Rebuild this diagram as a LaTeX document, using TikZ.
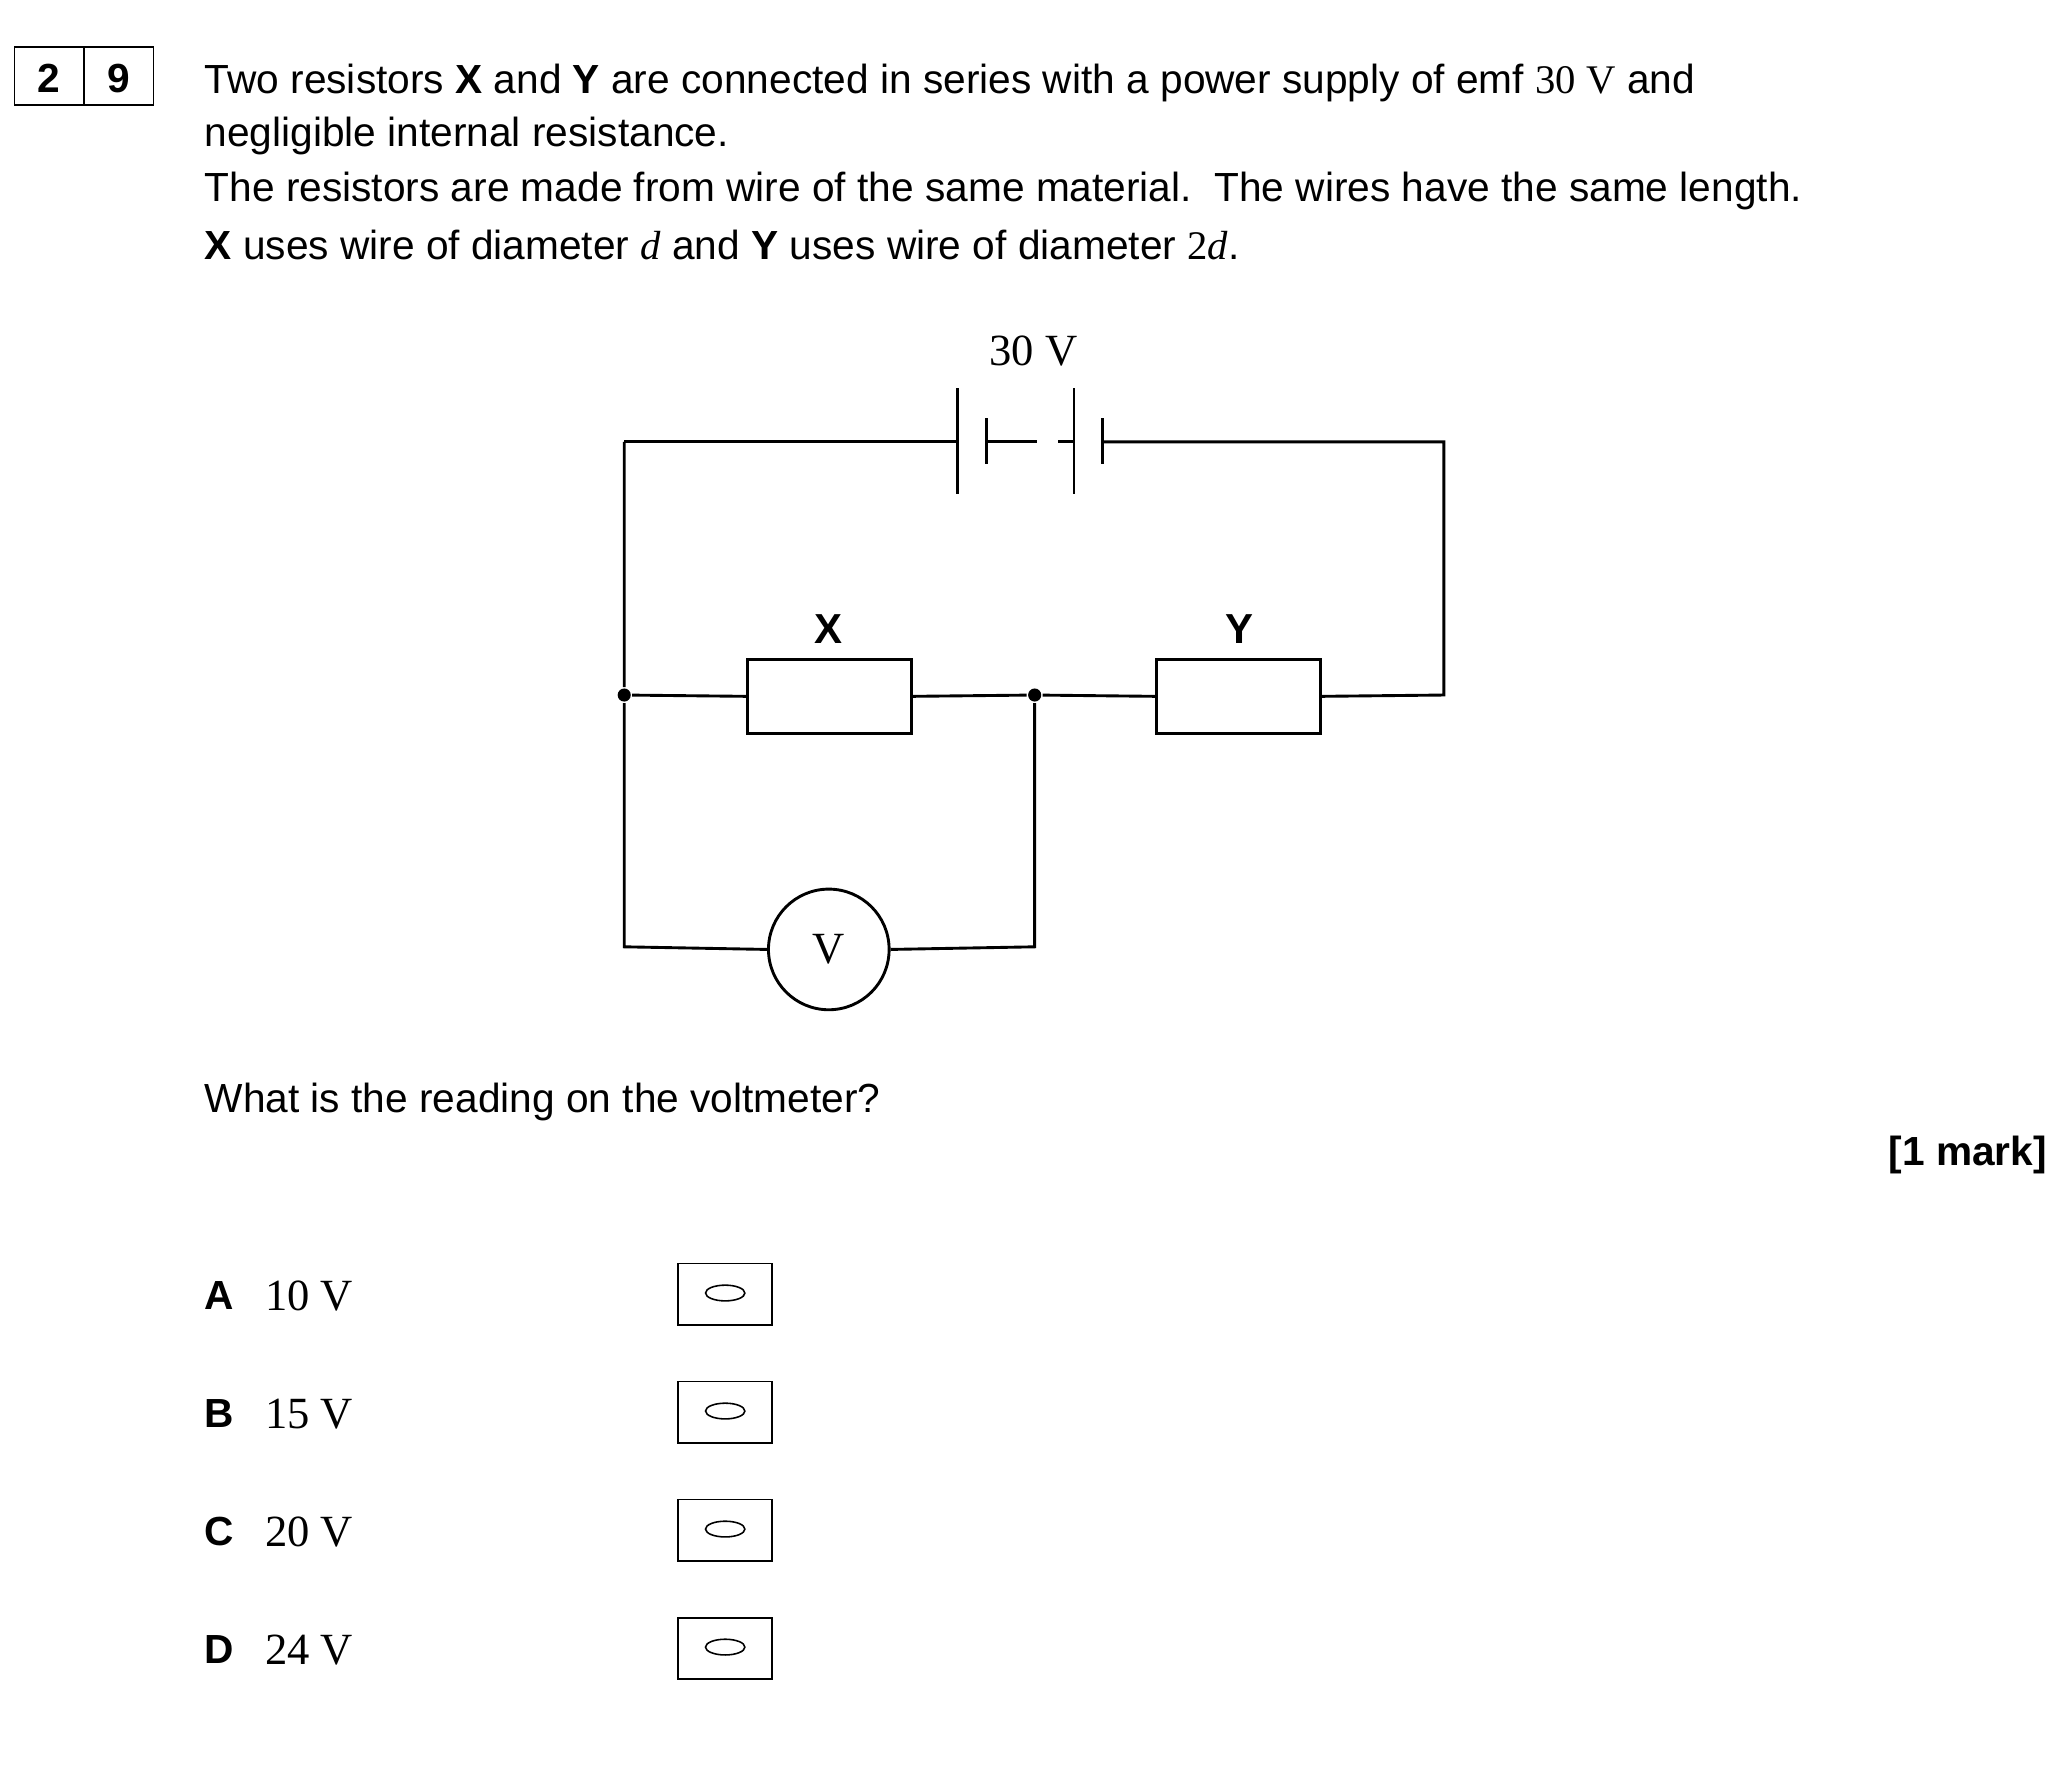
\documentclass[tikz,border=0pt]{standalone}
\usepackage{fontspec}
\setmainfont{Liberation Sans}
\newfontfamily\tms{Liberation Serif}
\begin{document}
\begin{tikzpicture}[x=0.5pt,y=-0.5pt,line width=1.1pt,
  txt/.style={anchor=west,inner sep=0,font=\fontsize{15.5}{18}\selectfont},
  res/.style={draw,minimum width=62.5pt,minimum height=28pt,inner sep=0},
  dot/.style={circle,fill,inner sep=0,minimum size=5pt},
  optbox/.style={draw,line width=0.7pt,minimum width=36pt,minimum height=23.5pt,inner sep=0}]
\useasboundingbox (0,0) rectangle (1564,1363);
% question number box
\draw[line width=0.7pt] (11,36) rectangle (117,80) (64,36) -- (64,80);
\node[font=\bfseries\fontsize{15.5}{18}\selectfont] (n2) at (37.5,60) {2};
\node[font=\bfseries\fontsize{15.5}{18}\selectfont] (n9) at (90.5,60) {9};
% text
\node[txt] (l1) at (155,63) {Two resistors \textbf{X} and \textbf{Y} are connected in series with a power supply of emf {\tms 30 V} and};
\node[txt] (l2) at (155,104) {negligible internal resistance.};
\node[txt] (l3) at (155,146) {The resistors are made from wire of the same material.\ \ The wires have the same length.};
\node[txt] (l4) at (155,187) {\textbf{X} uses wire of diameter {\tms\itshape d} and \textbf{Y} uses wire of diameter {\tms 2\itshape d}.};
% circuit
\coordinate (tl) at (476,337); \coordinate (tr) at (1101,337);
\coordinate (mr) at (1101,530); \coordinate (bl) at (476,722); \coordinate (br) at (789,722);
\node[dot] (j1) at (476,530) {};
\node[dot] (j2) at (789,530) {};
\node[res] (X) at (632.5,531) {};
\node[res] (Y) at (944.5,531) {};
\node[draw,circle,minimum size=46pt,inner sep=0,font=\tms\fontsize{17}{20}\selectfont] (V) at (632,724) {V};
\node[font=\bfseries\fontsize{16}{18}\selectfont] (Xl) at (632,480) {X};
\node[font=\bfseries\fontsize{16}{18}\selectfont] (Yl) at (945,480) {Y};
\node[font=\tms\fontsize{17}{20}\selectfont] (E) at (788,268) {30 V};
% battery
\coordinate (b1) at (730,337); \coordinate (b4) at (841,337);
\draw (tl) -- (b1);
\draw (730,296) -- (730,377);
\draw (752,319) -- (752,354);
\draw (752,337) -- (767,337);
\draw[dash pattern=on 12pt off 8pt] (767,337) -- (819,337);
\draw (819,296) -- (819,377);
\draw (841,319) -- (841,354);
\draw (b4) -- (tr) -- (mr) -- (Y.east);
\draw (Y.west) -- (j2) -- (X.east);
\draw (X.west) -- (j1);
\draw (tl) -- (j1) -- (bl) -- (V.west);
\draw (V.east) -- (br) -- (j2);
% question
\node[txt] (q) at (155,840) {What is the reading on the voltmeter?};
\node[anchor=east,inner sep=0,font=\bfseries\fontsize{15.5}{18}\selectfont] (mk) at (1562,881) {[1 mark]};
% options
\foreach \L/\v/\y in {A/10/988,B/15/1078,C/20/1168,D/24/1258}{
  \node[txt,font=\bfseries\fontsize{15.5}{18}\selectfont] (o\L) at (155,\y) {\L};
  \node[txt,font=\tms\fontsize{17}{20}\selectfont] (v\L) at (201,\y) {\v\ V};
  \node[optbox] (bx\L) at (553,\y-1) {};
  \draw[line width=0.6pt] (553,\y-2) ellipse (15 and 6);
}
\end{tikzpicture}
\end{document}
